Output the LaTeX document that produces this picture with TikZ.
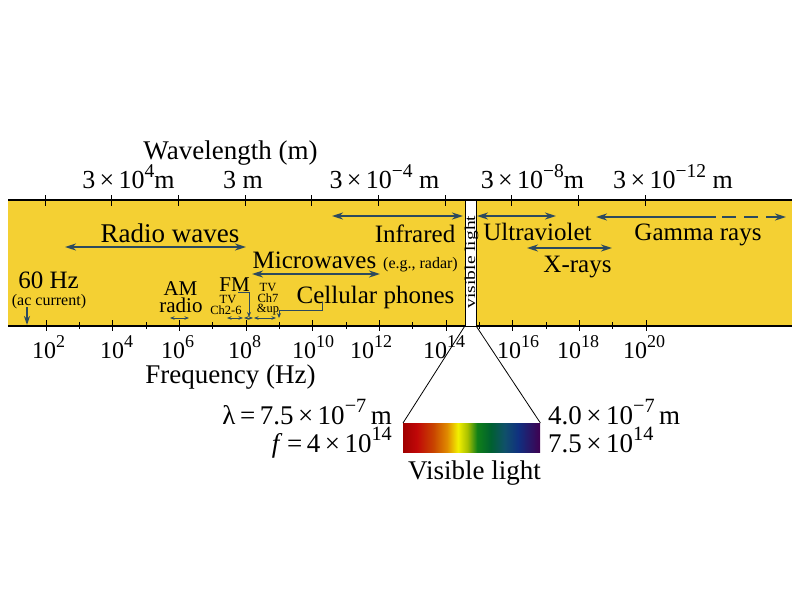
\documentclass[tikz,border=0pt]{standalone}
\usepackage{fontspec}
\setmainfont{Liberation Serif}
\newfontfamily\tnr{Liberation Serif}
\usetikzlibrary{arrows.meta}
\definecolor{bandyellow}{HTML}{F4D033}
\definecolor{arrblue}{HTML}{2C4A5E}
\definecolor{vA}{HTML}{A00000}
\definecolor{vB}{HTML}{C00808}
\definecolor{vC}{HTML}{C84400}
\definecolor{vD}{HTML}{E08A00}
\definecolor{vE}{HTML}{F2F000}
\definecolor{vF}{HTML}{A8C000}
\definecolor{vG}{HTML}{108018}
\definecolor{vH}{HTML}{006030}
\definecolor{vI}{HTML}{10506A}
\definecolor{vJ}{HTML}{103080}
\definecolor{vK}{HTML}{400050}
\pgfdeclarehorizontalshading{visspec}{100bp}{color(0bp)=(vA); color(25bp)=(vA); color(30bp)=(vB); color(36bp)=(vC); color(41bp)=(vD); color(45bp)=(vE); color(48.5bp)=(vF); color(52bp)=(vG); color(57bp)=(vH); color(62bp)=(vI); color(67bp)=(vJ); color(75bp)=(vK); color(100bp)=(vK)}
\newcommand\tenp[1]{10\raisebox{.42em}{\scalebox{.75}{#1}}}
\newcommand\mi{−}
\begin{document}
\begin{tikzpicture}[x=1pt,y=-1pt,
  lbl/.style={inner sep=0pt, anchor=base},
  huge/.style={lbl, font=\tnr\fontsize{27}{28}\selectfont},
  big/.style={lbl, font=\tnr\fontsize{25}{26}\selectfont},
  topl/.style={lbl, font=\tnr\fontsize{26}{27}\selectfont},
  botl/.style={lbl, anchor=base west, font=\tnr\fontsize{24}{25}\selectfont},
  mid/.style={lbl, font=\tnr\fontsize{21}{22}\selectfont},
  sml/.style={lbl, font=\tnr\fontsize{16}{17}\selectfont},
  tny/.style={lbl, font=\tnr\fontsize{12.5}{13}\selectfont},
  bandarrow/.style={draw=arrblue, line width=2.6pt, {Stealth[length=11pt,width=7pt]}-{Stealth[length=11pt,width=7pt]}},
  smallarrow/.style={draw=arrblue, line width=1pt, {Stealth[length=4.5pt,width=3.5pt]}-{Stealth[length=4.5pt,width=3.5pt]}},
  bracket/.style={draw=arrblue, line width=0.9pt, -{Stealth[length=5pt,width=4pt]}},
]
\useasboundingbox (0,0) rectangle (800,600);
\fill[white] (0,0) rectangle (800,600);
% band
\fill[bandyellow] (8,200) rectangle (792,326);
\draw[line width=1.2pt] (8,200) -- (792,200);
\draw[line width=1.2pt] (8,326) -- (792,326);
% ticks
\foreach \i in {0,...,9} \draw[line width=0.8pt] ({45+66.67*\i},195) -- ++(0,11);
\foreach \i in {0,...,18} {
  \ifodd\i
    \draw[line width=0.8pt] ({46+33.33*\i},322) -- ++(0,7);
  \else
    \draw[line width=0.8pt] ({46+33.33*\i},320) -- ++(0,11);
  \fi
}
% visible strip
\node[draw, line width=0.8pt, fill=white, minimum width=11pt, minimum height=126pt, inner sep=0pt] (strip) at (470.5,263) {};
\node[rotate=90, inner sep=0pt, font=\tnr\fontsize{15}{16}\selectfont] (striptext) at (471.5,262) {\scalebox{1.3}[1]{visible light}};
% axis titles
\node[huge] (wl) at (230.5,159) {Wavelength (m)};
\node[huge] (fr) at (230.5,383) {Frequency (Hz)};
% wavelength labels
\node[topl] (w1) at (128.5,188) {3\,×\,\tenp{4}m};
\node[topl] (w2) at (243,188) {3 m};
\node[topl] (w3) at (384.5,188) {3\,×\,\tenp{\mi4} m};
\node[topl] (w4) at (532.5,188) {3\,×\,\tenp{\mi8}m};
\node[topl] (w5) at (673,188) {3\,×\,\tenp{\mi12} m};
% frequency labels
\node[botl] (f2) at (32,358) {\tenp{2}};
\node[botl] (f4) at (100,358) {\tenp{4}};
\node[botl] (f6) at (161,358) {\tenp{6}};
\node[botl] (f8) at (228,358) {\tenp{8}};
\node[botl] (f10) at (292,358) {\tenp{10}};
\node[botl] (f12) at (350,358) {\tenp{12}};
\node[botl] (f14) at (423,358) {\tenp{14}};
\node[botl] (f16) at (497,358) {\tenp{16}};
\node[botl] (f18) at (557,358) {\tenp{18}};
\node[botl] (f20) at (623,358) {\tenp{20}};
% band labels
\node[huge] (radio) at (170,242) {Radio waves};
\node[big] (ir) at (415,242) {Infrared};
\node[big] (uv) at (537.5,240) {Ultraviolet};
\node[big] (gamma) at (698,240) {Gamma rays};
\node[big] (xray) at (577.5,272) {X-rays};
\node[big] (micro) at (314.5,268) {Microwaves};
\node[sml] (radar) at (420.5,268) {(e.g., radar)};
\node[big] (cell) at (375.5,303) {Cellular phones};
\node[big] (hz) at (48.5,288) {60 Hz};
\node[sml] (ac) at (49,305) {(ac current)};
\node[mid] (am) at (180.5,295) {AM};
\node[mid] (amr) at (181,312) {radio};
\node[mid] (fm) at (234.5,291) {FM};
\node[tny] (tva) at (228,303) {TV};
\node[tny] (tvach) at (226,314) {Ch2-6};
\node[tny] (tvb) at (268,291) {TV};
\node[tny] (tvbch) at (268,302) {Ch7};
\node[tny] (tvbup) at (268,312) {\&up};
% band arrows
\draw[bandarrow] (65,247) -- (246,247);
\draw[bandarrow] (252,274) -- (380,274);
\draw[bandarrow] (332,216) -- (463,216);
\draw[bandarrow] (477,216) -- (556,216);
\draw[bandarrow] (527,248) -- (612,248);
\coordinate (gmid) at (716,217);
\draw[draw=arrblue, line width=2.6pt, {Stealth[length=11pt,width=7pt]}-] (596,217) -- (gmid);
\draw[draw=arrblue, line width=2.6pt, dash pattern=on 14pt off 8pt, -{Stealth[length=11pt,width=7pt]}] (gmid) ++(6,0) -- (786,217);
\draw[draw=arrblue, line width=2pt, -{Stealth[length=9pt,width=6pt]}] (27,307) -- (27,325);
% small arrows
\draw[smallarrow] (170,318) -- (189,318);
\draw[smallarrow] (227,318) -- (243,318);
\draw[smallarrow] (244,318) -- (253,318);
\draw[smallarrow] (254,318) -- (276,318);
% brackets
\draw[bracket] (238,292) -- (249,292) -- (249,317);
\draw[bracket] (322,302) -- (322,310) -- (279,310) -- (279,318);
% visible spectrum
\node[shade, shading=visspec, minimum width=137pt, minimum height=29pt, inner sep=0pt, anchor=north west] (spec) at (403,423) {};
\draw[line width=0.8pt] (strip.south west) -- (spec.north west);
\draw[line width=0.8pt] (strip.south east) -- (spec.north east);
\node[huge, anchor=base east] (lam) at (392,424) {λ\,=\,7.5\,×\,\tenp{\mi7}\,m};
\node[huge, anchor=base east] (fq) at (392,452) {\textit{f}\,=\,4\,×\,\tenp{14}};
\node[huge, anchor=base west] (lam2) at (548,424) {4.0\,×\,\tenp{\mi7}\,m};
\node[huge, anchor=base west] (fq2) at (548,452) {7.5\,×\,\tenp{14}};
\node[huge] (vl) at (474.5,479) {Visible light};
\end{tikzpicture}
\end{document}
